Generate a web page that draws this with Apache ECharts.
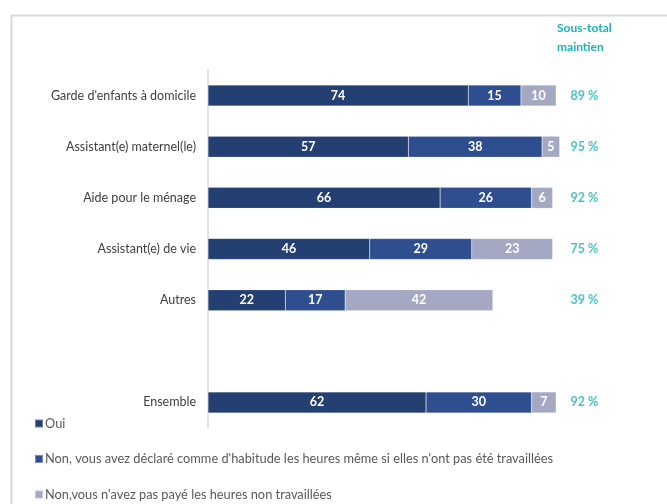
<!DOCTYPE html>
<html>
<head>
<meta charset="utf-8">
<script src="https://cdn.jsdelivr.net/npm/echarts@6/dist/echarts.min.js"></script>
<style>
  html, body { margin: 0; padding: 0; background: #fff; }
  #main { width: 667px; height: 504px; }
</style>
</head>
<body>
<div id="main"></div>
<script>
// catégories (une ligne vide entre Autres et Ensemble)
var categories = ['Garde d\'enfants à domicile', 'Assistant(e) maternel(le)', 'Aide pour le ménage', 'Assistant(e) de vie', 'Autres', '', 'Ensemble']
var seriesNames = [
  'Oui',
  'Non, vous avez déclaré comme d\'habitude les heures même si elles n\'ont pas été travaillées',
  'Non,vous n\'avez pas payé les heures non travaillées'
]
var oui = [74, 57, 66, 46, 22, null, 62]
var nonDeclare = [15, 38, 26, 29, 17, null, 30]
var nonPaye = [10, 5, 6, 23, 42, null, 7]
var sousTotal = [89, 95, 92, 75, 39, null, 92]

var colors = ['#243f72', '#2e4e8f', '#a4a8c3']
var teal = '#1bb3b6'
var font = 'Lato'

var myChart = echarts.init(document.getElementById('main'))

function barSerie (name, data, color) {
  return {
    name: name,
    type: 'bar',
    stack: 'total',
    barWidth: 21,
    data: data,
    itemStyle: { color: color, borderColor: 'rgba(255,255,255,0.35)', borderWidth: 0.5 },
    label: {
      show: true,
      position: 'inside',
      color: '#fff',
      fontWeight: 'bold',
      fontSize: 12.5,
      fontFamily: font
    },
    emphasis: { disabled: true }
  }
}

// colonne sous-total placée à une position fixe sur l'axe
var SOUS_TOTAL_X = 107
var sousTotalData = []
sousTotal.forEach(function (v, i) {
  if (v !== null) sousTotalData.push({ value: [SOUS_TOTAL_X, i], label: { formatter: v + ' %' } })
})

var option = {
  animation: false,
  textStyle: { fontFamily: font },
  graphic: [{
    type: 'rect',
    left: 9,
    top: 13,
    shape: { width: 720, height: 560 },
    style: { fill: 'none', stroke: '#d9d9d9', lineWidth: 2 },
    silent: true
  }, {
    type: 'text',
    left: 557,
    top: 19,
    style: {
      text: 'Sous-total\nmaintien',
      fill: teal,
      font: 'bold 12px ' + font,
      align: 'center',
      lineHeight: 19
    }
  }],
  legend: {
    orient: 'vertical',
    left: 34,
    top: 417,
    height: 200,
    padding: 0,
    itemWidth: 8,
    itemHeight: 8,
    itemGap: 22.5,
    icon: 'rect',
    selectedMode: false,
    data: seriesNames,
    textStyle: { color: '#595959', fontSize: 12.8, fontFamily: font, padding: [0, 0, 0, -3] }
  },
  grid: { left: 208, right: 37, top: 70, bottom: 76, containLabel: false },
  xAxis: {
    type: 'value',
    min: 0,
    max: 120,
    show: false
  },
  yAxis: {
    type: 'category',
    inverse: true,
    data: categories,
    axisLine: { show: true, lineStyle: { color: '#d9d9d9', width: 1.5 } },
    axisTick: { show: false },
    axisLabel: { color: '#404040', fontSize: 12.5, fontFamily: font, margin: 12 }
  },
  series: [
    barSerie(seriesNames[0], oui, colors[0]),
    barSerie(seriesNames[1], nonDeclare, colors[1]),
    barSerie(seriesNames[2], nonPaye, colors[2]),
    {
      type: 'scatter',
      symbolSize: 0,
      data: sousTotalData,
      label: {
        show: true,
        position: 'inside',
        color: teal,
        fontWeight: 'bold',
        fontSize: 12.5,
        fontFamily: font
      },
      emphasis: { disabled: true }
    }
  ]
}

myChart.setOption(option)
</script>
</body>
</html>
